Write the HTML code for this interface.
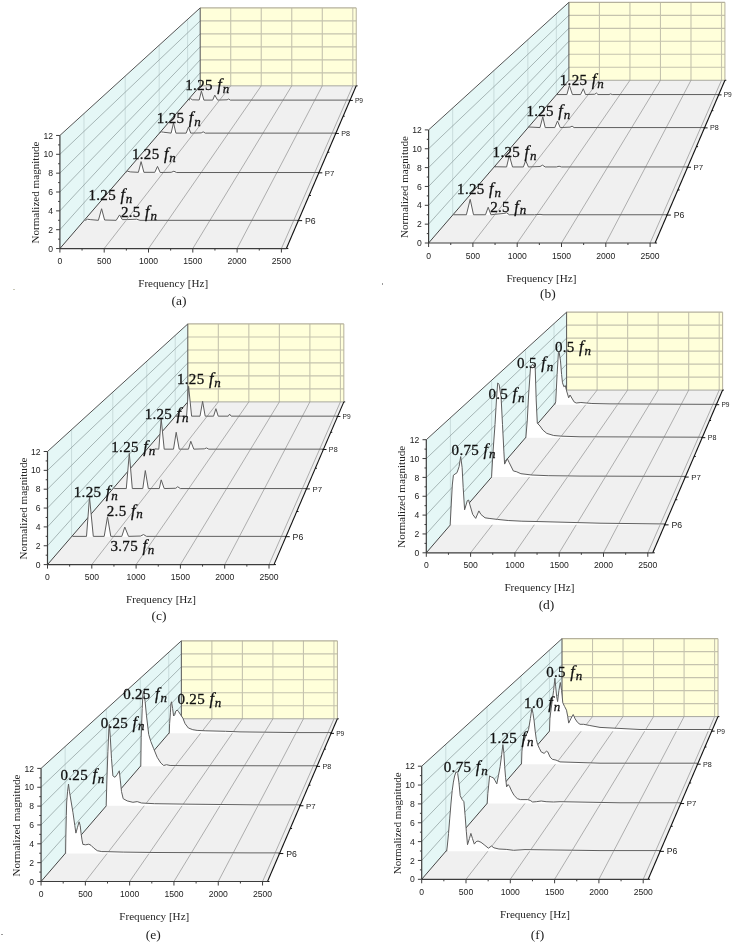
<!DOCTYPE html>
<html><head><meta charset="utf-8"><style>
html,body{margin:0;padding:0;background:#fff;}
svg{display:block;will-change:transform;}
.tk{font-family:"Liberation Sans",sans-serif;font-size:8.6px;fill:#222;}
.pl{font-family:"Liberation Sans",sans-serif;fill:#222;}
.ti{font-family:"Liberation Serif",serif;font-size:11.1px;fill:#222;}
.pn{font-family:"Liberation Serif",serif;font-size:13.5px;fill:#222;}
.an{font-family:"Liberation Serif",serif;font-size:15px;fill:#111;letter-spacing:0.3px;stroke:#111;stroke-width:0.3px;}
.fi{font-style:italic;font-size:16.3px;}
.sb{font-style:italic;font-size:13px;}
</style></head><body>
<svg width="733" height="944" viewBox="0 0 733 944">
<rect width="733" height="944" fill="#fff"/>
<rect x="382" y="283" width="1" height="2" fill="#999"/>
<rect x="13" y="289" width="2" height="1" fill="#c8c8b8"/>
<rect x="1" y="934" width="2" height="1" fill="#999"/>
<g id="pa"><polygon points="59.90,248.56 286.36,248.56 356.23,85.84 200.20,85.84" fill="#f0f0f0"/>
<polygon points="59.90,248.56 59.90,135.46 200.20,7.91 200.20,85.84" fill="#e5f7f6"/>
<polygon points="200.20,85.84 200.20,7.91 356.23,7.91 356.23,85.84" fill="#ffffda"/>
<line x1="230.72" y1="85.84" x2="230.72" y2="7.91" stroke="#c5c3ae" stroke-width="1.1"/>
<line x1="261.24" y1="85.84" x2="261.24" y2="7.91" stroke="#c5c3ae" stroke-width="1.1"/>
<line x1="291.76" y1="85.84" x2="291.76" y2="7.91" stroke="#c5c3ae" stroke-width="1.1"/>
<line x1="322.29" y1="85.84" x2="322.29" y2="7.91" stroke="#c5c3ae" stroke-width="1.1"/>
<line x1="352.81" y1="85.84" x2="352.81" y2="7.91" stroke="#c5c3ae" stroke-width="1.1"/>
<line x1="200.20" y1="72.85" x2="356.23" y2="72.85" stroke="#c5c3ae" stroke-width="1.1"/>
<line x1="200.20" y1="59.86" x2="356.23" y2="59.86" stroke="#c5c3ae" stroke-width="1.1"/>
<line x1="200.20" y1="46.88" x2="356.23" y2="46.88" stroke="#c5c3ae" stroke-width="1.1"/>
<line x1="200.20" y1="33.89" x2="356.23" y2="33.89" stroke="#c5c3ae" stroke-width="1.1"/>
<line x1="200.20" y1="20.90" x2="356.23" y2="20.90" stroke="#c5c3ae" stroke-width="1.1"/>
<line x1="200.20" y1="7.91" x2="356.23" y2="7.91" stroke="#b5b19c" stroke-width="1.2"/>
<line x1="356.23" y1="85.84" x2="356.23" y2="7.91" stroke="#b5b19c" stroke-width="1.0"/>
<line x1="200.20" y1="85.84" x2="356.23" y2="85.84" stroke="#a8a8a0" stroke-width="1.0"/>
<line x1="83.99" y1="220.62" x2="83.99" y2="113.56" stroke="#c9dcdc" stroke-width="1.0"/>
<line x1="125.21" y1="172.82" x2="125.21" y2="76.09" stroke="#c9dcdc" stroke-width="1.0"/>
<line x1="159.16" y1="133.43" x2="159.16" y2="45.22" stroke="#c9dcdc" stroke-width="1.0"/>
<line x1="187.63" y1="100.42" x2="187.63" y2="19.34" stroke="#c9dcdc" stroke-width="1.0"/>
<line x1="59.90" y1="229.71" x2="200.20" y2="72.85" stroke="#8a9999" stroke-width="0.7"/>
<line x1="59.90" y1="210.86" x2="200.20" y2="59.86" stroke="#8a9999" stroke-width="0.7"/>
<line x1="59.90" y1="192.01" x2="200.20" y2="46.88" stroke="#8a9999" stroke-width="0.7"/>
<line x1="59.90" y1="173.16" x2="200.20" y2="33.89" stroke="#8a9999" stroke-width="0.7"/>
<line x1="59.90" y1="154.31" x2="200.20" y2="20.90" stroke="#8a9999" stroke-width="0.7"/>
<line x1="104.20" y1="248.56" x2="230.72" y2="85.84" stroke="#909090" stroke-width="0.7"/>
<line x1="148.50" y1="248.56" x2="261.24" y2="85.84" stroke="#909090" stroke-width="0.7"/>
<line x1="192.80" y1="248.56" x2="291.76" y2="85.84" stroke="#909090" stroke-width="0.7"/>
<line x1="237.10" y1="248.56" x2="322.29" y2="85.84" stroke="#909090" stroke-width="0.7"/>
<line x1="281.40" y1="248.56" x2="352.81" y2="85.84" stroke="#909090" stroke-width="0.7"/>
<line x1="59.90" y1="135.46" x2="200.20" y2="7.91" stroke="#555" stroke-width="1.0"/>
<line x1="200.20" y1="85.84" x2="200.20" y2="7.91" stroke="#555" stroke-width="1.0"/>
<line x1="59.90" y1="248.56" x2="200.20" y2="85.84" stroke="#444" stroke-width="1.0"/>
<polygon points="189.40,100.42 189.40,99.32 190.60,98.62 192.30,99.82 199.20,100.02 201.40,91.12 203.90,100.12 212.70,100.12 214.80,95.12 217.60,100.12 227.10,99.82 228.70,99.02 230.30,100.12 349.97,100.12 349.97,100.42" fill="#fff" stroke="none"/>
<polyline points="189.40,100.42 189.40,99.32 190.60,98.62 192.30,99.82 199.20,100.02 201.40,91.12 203.90,100.12 212.70,100.12 214.80,95.12 217.60,100.12 227.10,99.82 228.70,99.02 230.30,100.12 349.97,100.12" fill="none" stroke="#5e5e5e" stroke-width="1" stroke-linejoin="round"/>
<polygon points="159.50,133.43 159.50,133.13 161.20,131.83 163.60,132.23 171.10,133.13 173.50,122.93 175.90,133.13 186.20,133.13 188.50,127.03 190.70,133.13 201.20,132.93 203.20,131.83 205.30,133.13 335.79,133.13 335.79,133.43" fill="#fff" stroke="none"/>
<polyline points="159.50,133.43 159.50,133.13 161.20,131.83 163.60,132.23 171.10,133.13 173.50,122.93 175.90,133.13 186.20,133.13 188.50,127.03 190.70,133.13 201.20,132.93 203.20,131.83 205.30,133.13 335.79,133.13" fill="none" stroke="#5e5e5e" stroke-width="1" stroke-linejoin="round"/>
<polygon points="125.50,172.82 125.50,172.52 127.50,171.22 130.20,171.92 138.40,172.32 141.10,161.62 143.90,172.32 154.80,172.32 157.50,166.42 160.20,172.52 171.20,172.32 173.90,171.22 176.60,172.52 318.88,172.52 318.88,172.82" fill="#fff" stroke="none"/>
<polyline points="125.50,172.82 125.50,172.52 127.50,171.22 130.20,171.92 138.40,172.32 141.10,161.62 143.90,172.32 154.80,172.32 157.50,166.42 160.20,172.52 171.20,172.32 173.90,171.22 176.60,172.52 318.88,172.52" fill="none" stroke="#5e5e5e" stroke-width="1" stroke-linejoin="round"/>
<polygon points="85.50,220.62 85.50,220.32 87.50,219.22 90.20,219.62 98.40,220.32 101.60,208.72 104.60,220.02 116.20,220.32 119.60,214.92 122.30,219.62 127.10,219.62 136.60,219.22 140.00,220.32 298.36,220.32 298.36,220.62" fill="#fff" stroke="none"/>
<polyline points="85.50,220.62 85.50,220.32 87.50,219.22 90.20,219.62 98.40,220.32 101.60,208.72 104.60,220.02 116.20,220.32 119.60,214.92 122.30,219.62 127.10,219.62 136.60,219.22 140.00,220.32 298.36,220.32" fill="none" stroke="#5e5e5e" stroke-width="1" stroke-linejoin="round"/>
<line x1="59.90" y1="248.56" x2="59.90" y2="135.46" stroke="#3c3c3c" stroke-width="1.2"/>
<line x1="56.10" y1="248.56" x2="59.90" y2="248.56" stroke="#3c3c3c" stroke-width="1.0"/>
<text x="53.00" y="251.66" text-anchor="end" class="tk">0</text>
<line x1="58.10" y1="239.14" x2="59.90" y2="239.14" stroke="#3c3c3c" stroke-width="1.0"/>
<line x1="56.10" y1="229.71" x2="59.90" y2="229.71" stroke="#3c3c3c" stroke-width="1.0"/>
<text x="53.00" y="232.81" text-anchor="end" class="tk">2</text>
<line x1="58.10" y1="220.29" x2="59.90" y2="220.29" stroke="#3c3c3c" stroke-width="1.0"/>
<line x1="56.10" y1="210.86" x2="59.90" y2="210.86" stroke="#3c3c3c" stroke-width="1.0"/>
<text x="53.00" y="213.96" text-anchor="end" class="tk">4</text>
<line x1="58.10" y1="201.44" x2="59.90" y2="201.44" stroke="#3c3c3c" stroke-width="1.0"/>
<line x1="56.10" y1="192.01" x2="59.90" y2="192.01" stroke="#3c3c3c" stroke-width="1.0"/>
<text x="53.00" y="195.11" text-anchor="end" class="tk">6</text>
<line x1="58.10" y1="182.58" x2="59.90" y2="182.58" stroke="#3c3c3c" stroke-width="1.0"/>
<line x1="56.10" y1="173.16" x2="59.90" y2="173.16" stroke="#3c3c3c" stroke-width="1.0"/>
<text x="53.00" y="176.26" text-anchor="end" class="tk">8</text>
<line x1="58.10" y1="163.74" x2="59.90" y2="163.74" stroke="#3c3c3c" stroke-width="1.0"/>
<line x1="56.10" y1="154.31" x2="59.90" y2="154.31" stroke="#3c3c3c" stroke-width="1.0"/>
<text x="53.00" y="157.41" text-anchor="end" class="tk">10</text>
<line x1="58.10" y1="144.89" x2="59.90" y2="144.89" stroke="#3c3c3c" stroke-width="1.0"/>
<line x1="56.10" y1="135.46" x2="59.90" y2="135.46" stroke="#3c3c3c" stroke-width="1.0"/>
<text x="53.00" y="138.56" text-anchor="end" class="tk">12</text>
<line x1="59.90" y1="248.56" x2="286.36" y2="248.56" stroke="#3c3c3c" stroke-width="1.2"/>
<line x1="59.90" y1="248.56" x2="59.90" y2="252.56" stroke="#3c3c3c" stroke-width="1.0"/>
<text x="59.90" y="264.06" text-anchor="middle" class="tk">0</text>
<line x1="82.05" y1="248.56" x2="82.05" y2="250.56" stroke="#3c3c3c" stroke-width="1.0"/>
<line x1="104.20" y1="248.56" x2="104.20" y2="252.56" stroke="#3c3c3c" stroke-width="1.0"/>
<text x="104.20" y="264.06" text-anchor="middle" class="tk">500</text>
<line x1="126.35" y1="248.56" x2="126.35" y2="250.56" stroke="#3c3c3c" stroke-width="1.0"/>
<line x1="148.50" y1="248.56" x2="148.50" y2="252.56" stroke="#3c3c3c" stroke-width="1.0"/>
<text x="148.50" y="264.06" text-anchor="middle" class="tk">1000</text>
<line x1="170.65" y1="248.56" x2="170.65" y2="250.56" stroke="#3c3c3c" stroke-width="1.0"/>
<line x1="192.80" y1="248.56" x2="192.80" y2="252.56" stroke="#3c3c3c" stroke-width="1.0"/>
<text x="192.80" y="264.06" text-anchor="middle" class="tk">1500</text>
<line x1="214.95" y1="248.56" x2="214.95" y2="250.56" stroke="#3c3c3c" stroke-width="1.0"/>
<line x1="237.10" y1="248.56" x2="237.10" y2="252.56" stroke="#3c3c3c" stroke-width="1.0"/>
<text x="237.10" y="264.06" text-anchor="middle" class="tk">2000</text>
<line x1="259.25" y1="248.56" x2="259.25" y2="250.56" stroke="#3c3c3c" stroke-width="1.0"/>
<line x1="281.40" y1="248.56" x2="281.40" y2="252.56" stroke="#3c3c3c" stroke-width="1.0"/>
<text x="281.40" y="264.06" text-anchor="middle" class="tk">2500</text>
<line x1="286.36" y1="248.56" x2="356.23" y2="85.84" stroke="#111" stroke-width="1.1"/>
<line x1="286.36" y1="248.56" x2="288.36" y2="248.56" stroke="#111" stroke-width="1.0"/>
<line x1="309.14" y1="195.50" x2="310.94" y2="195.50" stroke="#111" stroke-width="1.0"/>
<line x1="327.73" y1="152.22" x2="329.36" y2="152.22" stroke="#111" stroke-width="1.0"/>
<line x1="343.18" y1="116.23" x2="344.67" y2="116.23" stroke="#111" stroke-width="1.0"/>
<line x1="356.23" y1="85.84" x2="357.60" y2="85.84" stroke="#111" stroke-width="1.0"/>
<line x1="297.56" y1="220.62" x2="302.15" y2="220.62" stroke="#111" stroke-width="1.0"/>
<text x="304.99" y="223.75" style="font-size:8.71px" class="pl">P6</text>
<line x1="318.08" y1="172.82" x2="322.30" y2="172.82" stroke="#111" stroke-width="1.0"/>
<text x="324.87" y="175.65" style="font-size:7.87px" class="pl">P7</text>
<line x1="334.99" y1="133.43" x2="338.91" y2="133.43" stroke="#111" stroke-width="1.0"/>
<text x="341.25" y="136.02" style="font-size:7.18px" class="pl">P8</text>
<line x1="349.17" y1="100.42" x2="352.83" y2="100.42" stroke="#111" stroke-width="1.0"/>
<text x="354.98" y="102.79" style="font-size:6.60px" class="pl">P9</text>
<text transform="translate(38.90,192.56) rotate(-90)" text-anchor="middle" class="ti">Normalized magnitude</text>
<text x="173.20" y="287.10" text-anchor="middle" class="ti">Frequency [Hz]</text>
<text x="179.00" y="304.85" text-anchor="middle" class="pn">(a)</text>
<text x="88.50" y="200.20" class="an">1.25 <tspan class="fi" dx="0.4">f</tspan><tspan class="sb" dx="0.6" dy="2.8">n</tspan></text>
<text x="120.90" y="217.20" class="an">2.5 <tspan class="fi" dx="0.4">f</tspan><tspan class="sb" dx="0.6" dy="2.8">n</tspan></text>
<text x="132.00" y="159.40" class="an">1.25 <tspan class="fi" dx="0.4">f</tspan><tspan class="sb" dx="0.6" dy="2.8">n</tspan></text>
<text x="156.80" y="122.70" class="an">1.25 <tspan class="fi" dx="0.4">f</tspan><tspan class="sb" dx="0.6" dy="2.8">n</tspan></text>
<text x="185.30" y="90.20" class="an">1.25 <tspan class="fi" dx="0.4">f</tspan><tspan class="sb" dx="0.6" dy="2.8">n</tspan></text></g>
<g id="pb"><polygon points="428.60,243.00 655.06,243.00 724.93,80.28 568.90,80.28" fill="#f0f0f0"/>
<polygon points="428.60,243.00 428.60,129.90 568.90,2.35 568.90,80.28" fill="#e5f7f6"/>
<polygon points="568.90,80.28 568.90,2.35 724.93,2.35 724.93,80.28" fill="#ffffda"/>
<line x1="599.42" y1="80.28" x2="599.42" y2="2.35" stroke="#c5c3ae" stroke-width="1.1"/>
<line x1="629.94" y1="80.28" x2="629.94" y2="2.35" stroke="#c5c3ae" stroke-width="1.1"/>
<line x1="660.46" y1="80.28" x2="660.46" y2="2.35" stroke="#c5c3ae" stroke-width="1.1"/>
<line x1="690.99" y1="80.28" x2="690.99" y2="2.35" stroke="#c5c3ae" stroke-width="1.1"/>
<line x1="721.51" y1="80.28" x2="721.51" y2="2.35" stroke="#c5c3ae" stroke-width="1.1"/>
<line x1="568.90" y1="67.29" x2="724.93" y2="67.29" stroke="#c5c3ae" stroke-width="1.1"/>
<line x1="568.90" y1="54.30" x2="724.93" y2="54.30" stroke="#c5c3ae" stroke-width="1.1"/>
<line x1="568.90" y1="41.32" x2="724.93" y2="41.32" stroke="#c5c3ae" stroke-width="1.1"/>
<line x1="568.90" y1="28.33" x2="724.93" y2="28.33" stroke="#c5c3ae" stroke-width="1.1"/>
<line x1="568.90" y1="15.34" x2="724.93" y2="15.34" stroke="#c5c3ae" stroke-width="1.1"/>
<line x1="568.90" y1="2.35" x2="724.93" y2="2.35" stroke="#b5b19c" stroke-width="1.2"/>
<line x1="724.93" y1="80.28" x2="724.93" y2="2.35" stroke="#b5b19c" stroke-width="1.0"/>
<line x1="568.90" y1="80.28" x2="724.93" y2="80.28" stroke="#a8a8a0" stroke-width="1.0"/>
<line x1="452.69" y1="215.06" x2="452.69" y2="108.00" stroke="#c9dcdc" stroke-width="1.0"/>
<line x1="493.91" y1="167.26" x2="493.91" y2="70.53" stroke="#c9dcdc" stroke-width="1.0"/>
<line x1="527.86" y1="127.87" x2="527.86" y2="39.66" stroke="#c9dcdc" stroke-width="1.0"/>
<line x1="556.33" y1="94.86" x2="556.33" y2="13.78" stroke="#c9dcdc" stroke-width="1.0"/>
<line x1="428.60" y1="224.15" x2="568.90" y2="67.29" stroke="#8a9999" stroke-width="0.7"/>
<line x1="428.60" y1="205.30" x2="568.90" y2="54.30" stroke="#8a9999" stroke-width="0.7"/>
<line x1="428.60" y1="186.45" x2="568.90" y2="41.32" stroke="#8a9999" stroke-width="0.7"/>
<line x1="428.60" y1="167.60" x2="568.90" y2="28.33" stroke="#8a9999" stroke-width="0.7"/>
<line x1="428.60" y1="148.75" x2="568.90" y2="15.34" stroke="#8a9999" stroke-width="0.7"/>
<line x1="472.90" y1="243.00" x2="599.42" y2="80.28" stroke="#909090" stroke-width="0.7"/>
<line x1="517.20" y1="243.00" x2="629.94" y2="80.28" stroke="#909090" stroke-width="0.7"/>
<line x1="561.50" y1="243.00" x2="660.46" y2="80.28" stroke="#909090" stroke-width="0.7"/>
<line x1="605.80" y1="243.00" x2="690.99" y2="80.28" stroke="#909090" stroke-width="0.7"/>
<line x1="650.10" y1="243.00" x2="721.51" y2="80.28" stroke="#909090" stroke-width="0.7"/>
<line x1="428.60" y1="129.90" x2="568.90" y2="2.35" stroke="#555" stroke-width="1.0"/>
<line x1="568.90" y1="80.28" x2="568.90" y2="2.35" stroke="#555" stroke-width="1.0"/>
<line x1="428.60" y1="243.00" x2="568.90" y2="80.28" stroke="#444" stroke-width="1.0"/>
<polygon points="556.60,94.86 556.60,94.56 566.90,94.56 569.40,85.46 572.40,94.56 580.60,94.56 583.30,88.76 585.50,94.56 594.80,94.26 596.40,93.06 598.00,94.56 609.00,94.56 610.60,93.96 612.20,94.56 718.67,94.56 718.67,94.86" fill="#fff" stroke="none"/>
<polyline points="556.60,94.86 556.60,94.56 566.90,94.56 569.40,85.46 572.40,94.56 580.60,94.56 583.30,88.76 585.50,94.56 594.80,94.26 596.40,93.06 598.00,94.56 609.00,94.56 610.60,93.96 612.20,94.56 718.67,94.56" fill="none" stroke="#5e5e5e" stroke-width="1" stroke-linejoin="round"/>
<polygon points="528.40,127.87 528.40,126.97 540.00,127.57 542.80,116.87 545.20,127.57 554.80,127.57 557.50,120.97 560.20,127.57 570.00,127.17 572.10,126.17 574.10,127.57 704.49,127.57 704.49,127.87" fill="#fff" stroke="none"/>
<polyline points="528.40,127.87 528.40,126.97 540.00,127.57 542.80,116.87 545.20,127.57 554.80,127.57 557.50,120.97 560.20,127.57 570.00,127.17 572.10,126.17 574.10,127.57 704.49,127.57" fill="none" stroke="#5e5e5e" stroke-width="1" stroke-linejoin="round"/>
<polygon points="495.00,167.26 495.00,166.76 506.60,166.96 509.30,155.36 512.50,166.96 523.40,166.96 525.70,160.56 528.40,166.96 540.00,166.56 542.50,165.16 545.20,166.96 556.40,166.96 559.10,166.26 561.50,166.96 687.58,166.96 687.58,167.26" fill="#fff" stroke="none"/>
<polyline points="495.00,167.26 495.00,166.76 506.60,166.96 509.30,155.36 512.50,166.96 523.40,166.96 525.70,160.56 528.40,166.96 540.00,166.56 542.50,165.16 545.20,166.96 556.40,166.96 559.10,166.26 561.50,166.96 687.58,166.96" fill="none" stroke="#5e5e5e" stroke-width="1" stroke-linejoin="round"/>
<polygon points="453.40,215.06 453.40,214.76 466.40,214.76 470.20,199.36 473.50,214.76 485.50,214.76 488.20,207.26 490.90,214.76 503.90,213.46 506.60,212.76 509.30,214.76 534.60,214.76 540.00,214.36 543.00,214.76 667.06,214.76 667.06,215.06" fill="#fff" stroke="none"/>
<polyline points="453.40,215.06 453.40,214.76 466.40,214.76 470.20,199.36 473.50,214.76 485.50,214.76 488.20,207.26 490.90,214.76 503.90,213.46 506.60,212.76 509.30,214.76 534.60,214.76 540.00,214.36 543.00,214.76 667.06,214.76" fill="none" stroke="#5e5e5e" stroke-width="1" stroke-linejoin="round"/>
<line x1="428.60" y1="243.00" x2="428.60" y2="129.90" stroke="#3c3c3c" stroke-width="1.2"/>
<line x1="424.80" y1="243.00" x2="428.60" y2="243.00" stroke="#3c3c3c" stroke-width="1.0"/>
<text x="421.70" y="246.10" text-anchor="end" class="tk">0</text>
<line x1="426.80" y1="233.58" x2="428.60" y2="233.58" stroke="#3c3c3c" stroke-width="1.0"/>
<line x1="424.80" y1="224.15" x2="428.60" y2="224.15" stroke="#3c3c3c" stroke-width="1.0"/>
<text x="421.70" y="227.25" text-anchor="end" class="tk">2</text>
<line x1="426.80" y1="214.73" x2="428.60" y2="214.73" stroke="#3c3c3c" stroke-width="1.0"/>
<line x1="424.80" y1="205.30" x2="428.60" y2="205.30" stroke="#3c3c3c" stroke-width="1.0"/>
<text x="421.70" y="208.40" text-anchor="end" class="tk">4</text>
<line x1="426.80" y1="195.88" x2="428.60" y2="195.88" stroke="#3c3c3c" stroke-width="1.0"/>
<line x1="424.80" y1="186.45" x2="428.60" y2="186.45" stroke="#3c3c3c" stroke-width="1.0"/>
<text x="421.70" y="189.55" text-anchor="end" class="tk">6</text>
<line x1="426.80" y1="177.02" x2="428.60" y2="177.02" stroke="#3c3c3c" stroke-width="1.0"/>
<line x1="424.80" y1="167.60" x2="428.60" y2="167.60" stroke="#3c3c3c" stroke-width="1.0"/>
<text x="421.70" y="170.70" text-anchor="end" class="tk">8</text>
<line x1="426.80" y1="158.18" x2="428.60" y2="158.18" stroke="#3c3c3c" stroke-width="1.0"/>
<line x1="424.80" y1="148.75" x2="428.60" y2="148.75" stroke="#3c3c3c" stroke-width="1.0"/>
<text x="421.70" y="151.85" text-anchor="end" class="tk">10</text>
<line x1="426.80" y1="139.33" x2="428.60" y2="139.33" stroke="#3c3c3c" stroke-width="1.0"/>
<line x1="424.80" y1="129.90" x2="428.60" y2="129.90" stroke="#3c3c3c" stroke-width="1.0"/>
<text x="421.70" y="133.00" text-anchor="end" class="tk">12</text>
<line x1="428.60" y1="243.00" x2="655.06" y2="243.00" stroke="#3c3c3c" stroke-width="1.2"/>
<line x1="428.60" y1="243.00" x2="428.60" y2="247.00" stroke="#3c3c3c" stroke-width="1.0"/>
<text x="428.60" y="258.50" text-anchor="middle" class="tk">0</text>
<line x1="450.75" y1="243.00" x2="450.75" y2="245.00" stroke="#3c3c3c" stroke-width="1.0"/>
<line x1="472.90" y1="243.00" x2="472.90" y2="247.00" stroke="#3c3c3c" stroke-width="1.0"/>
<text x="472.90" y="258.50" text-anchor="middle" class="tk">500</text>
<line x1="495.05" y1="243.00" x2="495.05" y2="245.00" stroke="#3c3c3c" stroke-width="1.0"/>
<line x1="517.20" y1="243.00" x2="517.20" y2="247.00" stroke="#3c3c3c" stroke-width="1.0"/>
<text x="517.20" y="258.50" text-anchor="middle" class="tk">1000</text>
<line x1="539.35" y1="243.00" x2="539.35" y2="245.00" stroke="#3c3c3c" stroke-width="1.0"/>
<line x1="561.50" y1="243.00" x2="561.50" y2="247.00" stroke="#3c3c3c" stroke-width="1.0"/>
<text x="561.50" y="258.50" text-anchor="middle" class="tk">1500</text>
<line x1="583.65" y1="243.00" x2="583.65" y2="245.00" stroke="#3c3c3c" stroke-width="1.0"/>
<line x1="605.80" y1="243.00" x2="605.80" y2="247.00" stroke="#3c3c3c" stroke-width="1.0"/>
<text x="605.80" y="258.50" text-anchor="middle" class="tk">2000</text>
<line x1="627.95" y1="243.00" x2="627.95" y2="245.00" stroke="#3c3c3c" stroke-width="1.0"/>
<line x1="650.10" y1="243.00" x2="650.10" y2="247.00" stroke="#3c3c3c" stroke-width="1.0"/>
<text x="650.10" y="258.50" text-anchor="middle" class="tk">2500</text>
<line x1="655.06" y1="243.00" x2="724.93" y2="80.28" stroke="#111" stroke-width="1.1"/>
<line x1="655.06" y1="243.00" x2="657.06" y2="243.00" stroke="#111" stroke-width="1.0"/>
<line x1="677.84" y1="189.94" x2="679.64" y2="189.94" stroke="#111" stroke-width="1.0"/>
<line x1="696.43" y1="146.66" x2="698.06" y2="146.66" stroke="#111" stroke-width="1.0"/>
<line x1="711.88" y1="110.67" x2="713.37" y2="110.67" stroke="#111" stroke-width="1.0"/>
<line x1="724.93" y1="80.28" x2="726.30" y2="80.28" stroke="#111" stroke-width="1.0"/>
<line x1="666.26" y1="215.06" x2="670.85" y2="215.06" stroke="#111" stroke-width="1.0"/>
<text x="673.69" y="218.19" style="font-size:8.71px" class="pl">P6</text>
<line x1="686.78" y1="167.26" x2="691.00" y2="167.26" stroke="#111" stroke-width="1.0"/>
<text x="693.57" y="170.09" style="font-size:7.87px" class="pl">P7</text>
<line x1="703.69" y1="127.87" x2="707.61" y2="127.87" stroke="#111" stroke-width="1.0"/>
<text x="709.95" y="130.46" style="font-size:7.18px" class="pl">P8</text>
<line x1="717.87" y1="94.86" x2="721.53" y2="94.86" stroke="#111" stroke-width="1.0"/>
<text x="723.68" y="97.23" style="font-size:6.60px" class="pl">P9</text>
<text transform="translate(407.60,187.00) rotate(-90)" text-anchor="middle" class="ti">Normalized magnitude</text>
<text x="541.40" y="281.70" text-anchor="middle" class="ti">Frequency [Hz]</text>
<text x="547.85" y="297.50" text-anchor="middle" class="pn">(b)</text>
<text x="457.10" y="194.10" class="an">1.25 <tspan class="fi" dx="0.4">f</tspan><tspan class="sb" dx="0.6" dy="2.8">n</tspan></text>
<text x="490.20" y="211.50" class="an">2.5 <tspan class="fi" dx="0.4">f</tspan><tspan class="sb" dx="0.6" dy="2.8">n</tspan></text>
<text x="492.60" y="156.70" class="an">1.25 <tspan class="fi" dx="0.4">f</tspan><tspan class="sb" dx="0.6" dy="2.8">n</tspan></text>
<text x="526.40" y="116.30" class="an">1.25 <tspan class="fi" dx="0.4">f</tspan><tspan class="sb" dx="0.6" dy="2.8">n</tspan></text>
<text x="559.80" y="85.30" class="an">1.25 <tspan class="fi" dx="0.4">f</tspan><tspan class="sb" dx="0.6" dy="2.8">n</tspan></text></g>
<g id="pc"><polygon points="47.50,564.60 273.96,564.60 343.83,401.88 187.80,401.88" fill="#f0f0f0"/>
<polygon points="47.50,564.60 47.50,451.50 187.80,323.95 187.80,401.88" fill="#e5f7f6"/>
<polygon points="187.80,401.88 187.80,323.95 343.83,323.95 343.83,401.88" fill="#ffffda"/>
<line x1="218.32" y1="401.88" x2="218.32" y2="323.95" stroke="#c5c3ae" stroke-width="1.1"/>
<line x1="248.84" y1="401.88" x2="248.84" y2="323.95" stroke="#c5c3ae" stroke-width="1.1"/>
<line x1="279.36" y1="401.88" x2="279.36" y2="323.95" stroke="#c5c3ae" stroke-width="1.1"/>
<line x1="309.89" y1="401.88" x2="309.89" y2="323.95" stroke="#c5c3ae" stroke-width="1.1"/>
<line x1="340.41" y1="401.88" x2="340.41" y2="323.95" stroke="#c5c3ae" stroke-width="1.1"/>
<line x1="187.80" y1="388.89" x2="343.83" y2="388.89" stroke="#c5c3ae" stroke-width="1.1"/>
<line x1="187.80" y1="375.90" x2="343.83" y2="375.90" stroke="#c5c3ae" stroke-width="1.1"/>
<line x1="187.80" y1="362.92" x2="343.83" y2="362.92" stroke="#c5c3ae" stroke-width="1.1"/>
<line x1="187.80" y1="349.93" x2="343.83" y2="349.93" stroke="#c5c3ae" stroke-width="1.1"/>
<line x1="187.80" y1="336.94" x2="343.83" y2="336.94" stroke="#c5c3ae" stroke-width="1.1"/>
<line x1="187.80" y1="323.95" x2="343.83" y2="323.95" stroke="#b5b19c" stroke-width="1.2"/>
<line x1="343.83" y1="401.88" x2="343.83" y2="323.95" stroke="#b5b19c" stroke-width="1.0"/>
<line x1="187.80" y1="401.88" x2="343.83" y2="401.88" stroke="#a8a8a0" stroke-width="1.0"/>
<line x1="71.59" y1="536.66" x2="71.59" y2="429.60" stroke="#c9dcdc" stroke-width="1.0"/>
<line x1="112.81" y1="488.86" x2="112.81" y2="392.13" stroke="#c9dcdc" stroke-width="1.0"/>
<line x1="146.76" y1="449.47" x2="146.76" y2="361.26" stroke="#c9dcdc" stroke-width="1.0"/>
<line x1="175.23" y1="416.46" x2="175.23" y2="335.38" stroke="#c9dcdc" stroke-width="1.0"/>
<line x1="47.50" y1="545.75" x2="187.80" y2="388.89" stroke="#8a9999" stroke-width="0.7"/>
<line x1="47.50" y1="526.90" x2="187.80" y2="375.90" stroke="#8a9999" stroke-width="0.7"/>
<line x1="47.50" y1="508.05" x2="187.80" y2="362.92" stroke="#8a9999" stroke-width="0.7"/>
<line x1="47.50" y1="489.20" x2="187.80" y2="349.93" stroke="#8a9999" stroke-width="0.7"/>
<line x1="47.50" y1="470.35" x2="187.80" y2="336.94" stroke="#8a9999" stroke-width="0.7"/>
<line x1="91.80" y1="564.60" x2="218.32" y2="401.88" stroke="#909090" stroke-width="0.7"/>
<line x1="136.10" y1="564.60" x2="248.84" y2="401.88" stroke="#909090" stroke-width="0.7"/>
<line x1="180.40" y1="564.60" x2="279.36" y2="401.88" stroke="#909090" stroke-width="0.7"/>
<line x1="224.70" y1="564.60" x2="309.89" y2="401.88" stroke="#909090" stroke-width="0.7"/>
<line x1="269.00" y1="564.60" x2="340.41" y2="401.88" stroke="#909090" stroke-width="0.7"/>
<line x1="47.50" y1="451.50" x2="187.80" y2="323.95" stroke="#555" stroke-width="1.0"/>
<line x1="187.80" y1="401.88" x2="187.80" y2="323.95" stroke="#555" stroke-width="1.0"/>
<line x1="47.50" y1="564.60" x2="187.80" y2="401.88" stroke="#444" stroke-width="1.0"/>
<polygon points="175.80,416.46 175.80,416.16 186.60,416.16 188.60,386.36 191.60,416.16 200.00,416.16 202.60,401.36 205.20,416.16 213.60,416.16 215.90,408.66 218.20,416.16 228.30,416.16 229.60,414.16 231.20,416.16 337.57,416.16 337.57,416.46" fill="#fff" stroke="none"/>
<polyline points="175.80,416.46 175.80,416.16 186.60,416.16 188.60,386.36 191.60,416.16 200.00,416.16 202.60,401.36 205.20,416.16 213.60,416.16 215.90,408.66 218.20,416.16 228.30,416.16 229.60,414.16 231.20,416.16 337.57,416.16" fill="none" stroke="#5e5e5e" stroke-width="1" stroke-linejoin="round"/>
<polygon points="154.80,449.47 154.80,448.87 158.80,449.17 161.20,418.77 164.20,449.17 173.50,449.17 176.20,432.27 179.20,449.17 188.50,449.17 190.80,441.27 193.80,449.17 204.30,448.87 206.50,447.97 208.80,449.17 323.39,449.17 323.39,449.47" fill="#fff" stroke="none"/>
<polyline points="154.80,449.47 154.80,448.87 158.80,449.17 161.20,418.77 164.20,449.17 173.50,449.17 176.20,432.27 179.20,449.17 188.50,449.17 190.80,441.27 193.80,449.17 204.30,448.87 206.50,447.97 208.80,449.17 323.39,449.17" fill="none" stroke="#5e5e5e" stroke-width="1" stroke-linejoin="round"/>
<polygon points="114.30,488.86 114.30,488.56 126.30,488.56 129.30,453.36 132.30,488.56 142.80,488.56 145.30,470.56 148.30,488.56 159.30,488.56 161.20,479.86 164.20,488.56 175.80,488.26 177.70,486.76 180.30,488.56 306.48,488.56 306.48,488.86" fill="#fff" stroke="none"/>
<polyline points="114.30,488.86 114.30,488.56 126.30,488.56 129.30,453.36 132.30,488.56 142.80,488.56 145.30,470.56 148.30,488.56 159.30,488.56 161.20,479.86 164.20,488.56 175.80,488.26 177.70,486.76 180.30,488.56 306.48,488.56" fill="none" stroke="#5e5e5e" stroke-width="1" stroke-linejoin="round"/>
<polygon points="72.70,536.66 72.70,536.36 86.50,536.36 89.50,497.36 93.30,536.36 104.20,536.36 107.50,516.86 110.80,536.36 121.80,536.36 124.80,527.06 128.50,536.36 140.50,536.06 143.50,534.56 146.50,536.36 285.96,536.36 285.96,536.66" fill="#fff" stroke="none"/>
<polyline points="72.70,536.66 72.70,536.36 86.50,536.36 89.50,497.36 93.30,536.36 104.20,536.36 107.50,516.86 110.80,536.36 121.80,536.36 124.80,527.06 128.50,536.36 140.50,536.06 143.50,534.56 146.50,536.36 285.96,536.36" fill="none" stroke="#5e5e5e" stroke-width="1" stroke-linejoin="round"/>
<line x1="47.50" y1="564.60" x2="47.50" y2="451.50" stroke="#3c3c3c" stroke-width="1.2"/>
<line x1="43.70" y1="564.60" x2="47.50" y2="564.60" stroke="#3c3c3c" stroke-width="1.0"/>
<text x="40.60" y="567.70" text-anchor="end" class="tk">0</text>
<line x1="45.70" y1="555.18" x2="47.50" y2="555.18" stroke="#3c3c3c" stroke-width="1.0"/>
<line x1="43.70" y1="545.75" x2="47.50" y2="545.75" stroke="#3c3c3c" stroke-width="1.0"/>
<text x="40.60" y="548.85" text-anchor="end" class="tk">2</text>
<line x1="45.70" y1="536.33" x2="47.50" y2="536.33" stroke="#3c3c3c" stroke-width="1.0"/>
<line x1="43.70" y1="526.90" x2="47.50" y2="526.90" stroke="#3c3c3c" stroke-width="1.0"/>
<text x="40.60" y="530.00" text-anchor="end" class="tk">4</text>
<line x1="45.70" y1="517.48" x2="47.50" y2="517.48" stroke="#3c3c3c" stroke-width="1.0"/>
<line x1="43.70" y1="508.05" x2="47.50" y2="508.05" stroke="#3c3c3c" stroke-width="1.0"/>
<text x="40.60" y="511.15" text-anchor="end" class="tk">6</text>
<line x1="45.70" y1="498.62" x2="47.50" y2="498.62" stroke="#3c3c3c" stroke-width="1.0"/>
<line x1="43.70" y1="489.20" x2="47.50" y2="489.20" stroke="#3c3c3c" stroke-width="1.0"/>
<text x="40.60" y="492.30" text-anchor="end" class="tk">8</text>
<line x1="45.70" y1="479.78" x2="47.50" y2="479.78" stroke="#3c3c3c" stroke-width="1.0"/>
<line x1="43.70" y1="470.35" x2="47.50" y2="470.35" stroke="#3c3c3c" stroke-width="1.0"/>
<text x="40.60" y="473.45" text-anchor="end" class="tk">10</text>
<line x1="45.70" y1="460.93" x2="47.50" y2="460.93" stroke="#3c3c3c" stroke-width="1.0"/>
<line x1="43.70" y1="451.50" x2="47.50" y2="451.50" stroke="#3c3c3c" stroke-width="1.0"/>
<text x="40.60" y="454.60" text-anchor="end" class="tk">12</text>
<line x1="47.50" y1="564.60" x2="273.96" y2="564.60" stroke="#3c3c3c" stroke-width="1.2"/>
<line x1="47.50" y1="564.60" x2="47.50" y2="568.60" stroke="#3c3c3c" stroke-width="1.0"/>
<text x="47.50" y="580.10" text-anchor="middle" class="tk">0</text>
<line x1="69.65" y1="564.60" x2="69.65" y2="566.60" stroke="#3c3c3c" stroke-width="1.0"/>
<line x1="91.80" y1="564.60" x2="91.80" y2="568.60" stroke="#3c3c3c" stroke-width="1.0"/>
<text x="91.80" y="580.10" text-anchor="middle" class="tk">500</text>
<line x1="113.95" y1="564.60" x2="113.95" y2="566.60" stroke="#3c3c3c" stroke-width="1.0"/>
<line x1="136.10" y1="564.60" x2="136.10" y2="568.60" stroke="#3c3c3c" stroke-width="1.0"/>
<text x="136.10" y="580.10" text-anchor="middle" class="tk">1000</text>
<line x1="158.25" y1="564.60" x2="158.25" y2="566.60" stroke="#3c3c3c" stroke-width="1.0"/>
<line x1="180.40" y1="564.60" x2="180.40" y2="568.60" stroke="#3c3c3c" stroke-width="1.0"/>
<text x="180.40" y="580.10" text-anchor="middle" class="tk">1500</text>
<line x1="202.55" y1="564.60" x2="202.55" y2="566.60" stroke="#3c3c3c" stroke-width="1.0"/>
<line x1="224.70" y1="564.60" x2="224.70" y2="568.60" stroke="#3c3c3c" stroke-width="1.0"/>
<text x="224.70" y="580.10" text-anchor="middle" class="tk">2000</text>
<line x1="246.85" y1="564.60" x2="246.85" y2="566.60" stroke="#3c3c3c" stroke-width="1.0"/>
<line x1="269.00" y1="564.60" x2="269.00" y2="568.60" stroke="#3c3c3c" stroke-width="1.0"/>
<text x="269.00" y="580.10" text-anchor="middle" class="tk">2500</text>
<line x1="273.96" y1="564.60" x2="343.83" y2="401.88" stroke="#111" stroke-width="1.1"/>
<line x1="273.96" y1="564.60" x2="275.96" y2="564.60" stroke="#111" stroke-width="1.0"/>
<line x1="296.74" y1="511.54" x2="298.54" y2="511.54" stroke="#111" stroke-width="1.0"/>
<line x1="315.33" y1="468.26" x2="316.96" y2="468.26" stroke="#111" stroke-width="1.0"/>
<line x1="330.78" y1="432.27" x2="332.27" y2="432.27" stroke="#111" stroke-width="1.0"/>
<line x1="343.83" y1="401.88" x2="345.20" y2="401.88" stroke="#111" stroke-width="1.0"/>
<line x1="285.16" y1="536.66" x2="289.75" y2="536.66" stroke="#111" stroke-width="1.0"/>
<text x="292.59" y="539.79" style="font-size:8.71px" class="pl">P6</text>
<line x1="305.68" y1="488.86" x2="309.90" y2="488.86" stroke="#111" stroke-width="1.0"/>
<text x="312.47" y="491.69" style="font-size:7.87px" class="pl">P7</text>
<line x1="322.59" y1="449.47" x2="326.51" y2="449.47" stroke="#111" stroke-width="1.0"/>
<text x="328.85" y="452.06" style="font-size:7.18px" class="pl">P8</text>
<line x1="336.77" y1="416.46" x2="340.43" y2="416.46" stroke="#111" stroke-width="1.0"/>
<text x="342.58" y="418.83" style="font-size:6.60px" class="pl">P9</text>
<text transform="translate(26.50,508.60) rotate(-90)" text-anchor="middle" class="ti">Normalized magnitude</text>
<text x="161.00" y="603.30" text-anchor="middle" class="ti">Frequency [Hz]</text>
<text x="159.05" y="620.25" text-anchor="middle" class="pn">(c)</text>
<text x="73.80" y="497.30" class="an">1.25 <tspan class="fi" dx="0.4">f</tspan><tspan class="sb" dx="0.6" dy="2.8">n</tspan></text>
<text x="106.80" y="515.60" class="an">2.5 <tspan class="fi" dx="0.4">f</tspan><tspan class="sb" dx="0.6" dy="2.8">n</tspan></text>
<text x="110.50" y="550.90" class="an">3.75 <tspan class="fi" dx="0.4">f</tspan><tspan class="sb" dx="0.6" dy="2.8">n</tspan></text>
<text x="111.30" y="451.90" class="an">1.25 <tspan class="fi" dx="0.4">f</tspan><tspan class="sb" dx="0.6" dy="2.8">n</tspan></text>
<text x="144.70" y="419.40" class="an">1.25 <tspan class="fi" dx="0.4">f</tspan><tspan class="sb" dx="0.6" dy="2.8">n</tspan></text>
<text x="177.00" y="384.00" class="an">1.25 <tspan class="fi" dx="0.4">f</tspan><tspan class="sb" dx="0.6" dy="2.8">n</tspan></text></g>
<g id="pd"><polygon points="426.30,552.80 652.76,552.80 722.63,390.08 566.60,390.08" fill="#f0f0f0"/>
<polygon points="426.30,552.80 426.30,439.70 566.60,312.15 566.60,390.08" fill="#e5f7f6"/>
<polygon points="566.60,390.08 566.60,312.15 722.63,312.15 722.63,390.08" fill="#ffffda"/>
<line x1="597.12" y1="390.08" x2="597.12" y2="312.15" stroke="#c5c3ae" stroke-width="1.1"/>
<line x1="627.64" y1="390.08" x2="627.64" y2="312.15" stroke="#c5c3ae" stroke-width="1.1"/>
<line x1="658.16" y1="390.08" x2="658.16" y2="312.15" stroke="#c5c3ae" stroke-width="1.1"/>
<line x1="688.69" y1="390.08" x2="688.69" y2="312.15" stroke="#c5c3ae" stroke-width="1.1"/>
<line x1="719.21" y1="390.08" x2="719.21" y2="312.15" stroke="#c5c3ae" stroke-width="1.1"/>
<line x1="566.60" y1="377.09" x2="722.63" y2="377.09" stroke="#c5c3ae" stroke-width="1.1"/>
<line x1="566.60" y1="364.10" x2="722.63" y2="364.10" stroke="#c5c3ae" stroke-width="1.1"/>
<line x1="566.60" y1="351.12" x2="722.63" y2="351.12" stroke="#c5c3ae" stroke-width="1.1"/>
<line x1="566.60" y1="338.13" x2="722.63" y2="338.13" stroke="#c5c3ae" stroke-width="1.1"/>
<line x1="566.60" y1="325.14" x2="722.63" y2="325.14" stroke="#c5c3ae" stroke-width="1.1"/>
<line x1="566.60" y1="312.15" x2="722.63" y2="312.15" stroke="#b5b19c" stroke-width="1.2"/>
<line x1="722.63" y1="390.08" x2="722.63" y2="312.15" stroke="#b5b19c" stroke-width="1.0"/>
<line x1="566.60" y1="390.08" x2="722.63" y2="390.08" stroke="#a8a8a0" stroke-width="1.0"/>
<line x1="450.39" y1="524.86" x2="450.39" y2="417.80" stroke="#c9dcdc" stroke-width="1.0"/>
<line x1="491.61" y1="477.06" x2="491.61" y2="380.33" stroke="#c9dcdc" stroke-width="1.0"/>
<line x1="525.56" y1="437.67" x2="525.56" y2="349.46" stroke="#c9dcdc" stroke-width="1.0"/>
<line x1="554.03" y1="404.66" x2="554.03" y2="323.58" stroke="#c9dcdc" stroke-width="1.0"/>
<line x1="426.30" y1="533.95" x2="566.60" y2="377.09" stroke="#8a9999" stroke-width="0.7"/>
<line x1="426.30" y1="515.10" x2="566.60" y2="364.10" stroke="#8a9999" stroke-width="0.7"/>
<line x1="426.30" y1="496.25" x2="566.60" y2="351.12" stroke="#8a9999" stroke-width="0.7"/>
<line x1="426.30" y1="477.40" x2="566.60" y2="338.13" stroke="#8a9999" stroke-width="0.7"/>
<line x1="426.30" y1="458.55" x2="566.60" y2="325.14" stroke="#8a9999" stroke-width="0.7"/>
<line x1="470.60" y1="552.80" x2="597.12" y2="390.08" stroke="#909090" stroke-width="0.7"/>
<line x1="514.90" y1="552.80" x2="627.64" y2="390.08" stroke="#909090" stroke-width="0.7"/>
<line x1="559.20" y1="552.80" x2="658.16" y2="390.08" stroke="#909090" stroke-width="0.7"/>
<line x1="603.50" y1="552.80" x2="688.69" y2="390.08" stroke="#909090" stroke-width="0.7"/>
<line x1="647.80" y1="552.80" x2="719.21" y2="390.08" stroke="#909090" stroke-width="0.7"/>
<line x1="426.30" y1="439.70" x2="566.60" y2="312.15" stroke="#555" stroke-width="1.0"/>
<line x1="566.60" y1="390.08" x2="566.60" y2="312.15" stroke="#555" stroke-width="1.0"/>
<line x1="426.30" y1="552.80" x2="566.60" y2="390.08" stroke="#444" stroke-width="1.0"/>
<polygon points="554.80,404.66 554.80,404.20 555.70,401.90 557.10,374.60 558.40,352.70 559.10,352.10 560.50,360.90 561.60,374.60 562.50,382.80 563.90,386.80 565.30,385.50 566.60,390.90 568.70,397.80 570.00,395.00 574.10,401.90 576.20,403.00 580.90,402.50 591.90,403.50 610.00,403.90 700.00,404.30 716.37,404.30 716.37,404.66" fill="#fff" stroke="none"/>
<polyline points="554.80,404.66 554.80,404.20 555.70,401.90 557.10,374.60 558.40,352.70 559.10,352.10 560.50,360.90 561.60,374.60 562.50,382.80 563.90,386.80 565.30,385.50 566.60,390.90 568.70,397.80 570.00,395.00 574.10,401.90 576.20,403.00 580.90,402.50 591.90,403.50 610.00,403.90 700.00,404.30 716.37,404.30" fill="none" stroke="#5e5e5e" stroke-width="1" stroke-linejoin="round"/>
<polygon points="525.90,437.67 525.90,437.20 527.30,420.00 528.60,395.00 530.50,367.50 532.60,364.20 535.20,367.70 536.20,400.00 537.30,423.20 540.00,426.00 542.80,430.00 546.80,433.40 553.70,435.50 561.90,436.20 580.00,436.80 700.00,437.20 702.19,437.20 702.19,437.67" fill="#fff" stroke="none"/>
<polyline points="525.90,437.67 525.90,437.20 527.30,420.00 528.60,395.00 530.50,367.50 532.60,364.20 535.20,367.70 536.20,400.00 537.30,423.20 540.00,426.00 542.80,430.00 546.80,433.40 553.70,435.50 561.90,436.20 580.00,436.80 700.00,437.20 702.19,437.20" fill="none" stroke="#5e5e5e" stroke-width="1" stroke-linejoin="round"/>
<polygon points="491.60,477.06 491.60,476.40 493.00,451.90 495.00,424.60 496.60,397.30 497.70,383.00 499.10,384.30 501.10,397.30 502.50,424.60 503.90,451.90 504.60,464.10 507.30,458.70 509.30,462.80 513.40,471.00 516.20,471.60 520.90,473.70 531.80,475.00 548.20,475.70 580.00,476.10 686.00,476.40 686.00,477.06" fill="#fff" stroke="none"/>
<polyline points="491.60,477.06 491.60,476.40 493.00,451.90 495.00,424.60 496.60,397.30 497.70,383.00 499.10,384.30 501.10,397.30 502.50,424.60 503.90,451.90 504.60,464.10 507.30,458.70 509.30,462.80 513.40,471.00 516.20,471.60 520.90,473.70 531.80,475.00 548.20,475.70 580.00,476.10 686.00,476.40" fill="none" stroke="#5e5e5e" stroke-width="1" stroke-linejoin="round"/>
<polygon points="450.20,524.86 450.20,524.60 450.90,511.00 452.30,485.00 453.40,475.20 457.00,472.70 459.10,466.60 460.70,456.60 462.10,467.30 463.20,487.70 464.60,509.80 467.30,500.70 468.60,500.00 469.70,504.10 472.70,514.40 475.70,518.40 478.90,510.90 480.90,514.40 485.00,517.80 489.10,518.40 497.30,519.40 508.20,520.50 521.90,521.20 540.00,521.60 600.00,523.20 666.00,524.00 666.00,524.86" fill="#fff" stroke="none"/>
<polyline points="450.20,524.86 450.20,524.60 450.90,511.00 452.30,485.00 453.40,475.20 457.00,472.70 459.10,466.60 460.70,456.60 462.10,467.30 463.20,487.70 464.60,509.80 467.30,500.70 468.60,500.00 469.70,504.10 472.70,514.40 475.70,518.40 478.90,510.90 480.90,514.40 485.00,517.80 489.10,518.40 497.30,519.40 508.20,520.50 521.90,521.20 540.00,521.60 600.00,523.20 666.00,524.00" fill="none" stroke="#5e5e5e" stroke-width="1" stroke-linejoin="round"/>
<line x1="426.30" y1="552.80" x2="426.30" y2="439.70" stroke="#3c3c3c" stroke-width="1.2"/>
<line x1="422.50" y1="552.80" x2="426.30" y2="552.80" stroke="#3c3c3c" stroke-width="1.0"/>
<text x="419.40" y="555.90" text-anchor="end" class="tk">0</text>
<line x1="424.50" y1="543.38" x2="426.30" y2="543.38" stroke="#3c3c3c" stroke-width="1.0"/>
<line x1="422.50" y1="533.95" x2="426.30" y2="533.95" stroke="#3c3c3c" stroke-width="1.0"/>
<text x="419.40" y="537.05" text-anchor="end" class="tk">2</text>
<line x1="424.50" y1="524.52" x2="426.30" y2="524.52" stroke="#3c3c3c" stroke-width="1.0"/>
<line x1="422.50" y1="515.10" x2="426.30" y2="515.10" stroke="#3c3c3c" stroke-width="1.0"/>
<text x="419.40" y="518.20" text-anchor="end" class="tk">4</text>
<line x1="424.50" y1="505.67" x2="426.30" y2="505.67" stroke="#3c3c3c" stroke-width="1.0"/>
<line x1="422.50" y1="496.25" x2="426.30" y2="496.25" stroke="#3c3c3c" stroke-width="1.0"/>
<text x="419.40" y="499.35" text-anchor="end" class="tk">6</text>
<line x1="424.50" y1="486.82" x2="426.30" y2="486.82" stroke="#3c3c3c" stroke-width="1.0"/>
<line x1="422.50" y1="477.40" x2="426.30" y2="477.40" stroke="#3c3c3c" stroke-width="1.0"/>
<text x="419.40" y="480.50" text-anchor="end" class="tk">8</text>
<line x1="424.50" y1="467.97" x2="426.30" y2="467.97" stroke="#3c3c3c" stroke-width="1.0"/>
<line x1="422.50" y1="458.55" x2="426.30" y2="458.55" stroke="#3c3c3c" stroke-width="1.0"/>
<text x="419.40" y="461.65" text-anchor="end" class="tk">10</text>
<line x1="424.50" y1="449.12" x2="426.30" y2="449.12" stroke="#3c3c3c" stroke-width="1.0"/>
<line x1="422.50" y1="439.70" x2="426.30" y2="439.70" stroke="#3c3c3c" stroke-width="1.0"/>
<text x="419.40" y="442.80" text-anchor="end" class="tk">12</text>
<line x1="426.30" y1="552.80" x2="652.76" y2="552.80" stroke="#3c3c3c" stroke-width="1.2"/>
<line x1="426.30" y1="552.80" x2="426.30" y2="556.80" stroke="#3c3c3c" stroke-width="1.0"/>
<text x="426.30" y="568.30" text-anchor="middle" class="tk">0</text>
<line x1="448.45" y1="552.80" x2="448.45" y2="554.80" stroke="#3c3c3c" stroke-width="1.0"/>
<line x1="470.60" y1="552.80" x2="470.60" y2="556.80" stroke="#3c3c3c" stroke-width="1.0"/>
<text x="470.60" y="568.30" text-anchor="middle" class="tk">500</text>
<line x1="492.75" y1="552.80" x2="492.75" y2="554.80" stroke="#3c3c3c" stroke-width="1.0"/>
<line x1="514.90" y1="552.80" x2="514.90" y2="556.80" stroke="#3c3c3c" stroke-width="1.0"/>
<text x="514.90" y="568.30" text-anchor="middle" class="tk">1000</text>
<line x1="537.05" y1="552.80" x2="537.05" y2="554.80" stroke="#3c3c3c" stroke-width="1.0"/>
<line x1="559.20" y1="552.80" x2="559.20" y2="556.80" stroke="#3c3c3c" stroke-width="1.0"/>
<text x="559.20" y="568.30" text-anchor="middle" class="tk">1500</text>
<line x1="581.35" y1="552.80" x2="581.35" y2="554.80" stroke="#3c3c3c" stroke-width="1.0"/>
<line x1="603.50" y1="552.80" x2="603.50" y2="556.80" stroke="#3c3c3c" stroke-width="1.0"/>
<text x="603.50" y="568.30" text-anchor="middle" class="tk">2000</text>
<line x1="625.65" y1="552.80" x2="625.65" y2="554.80" stroke="#3c3c3c" stroke-width="1.0"/>
<line x1="647.80" y1="552.80" x2="647.80" y2="556.80" stroke="#3c3c3c" stroke-width="1.0"/>
<text x="647.80" y="568.30" text-anchor="middle" class="tk">2500</text>
<line x1="652.76" y1="552.80" x2="722.63" y2="390.08" stroke="#111" stroke-width="1.1"/>
<line x1="652.76" y1="552.80" x2="654.76" y2="552.80" stroke="#111" stroke-width="1.0"/>
<line x1="675.54" y1="499.74" x2="677.34" y2="499.74" stroke="#111" stroke-width="1.0"/>
<line x1="694.13" y1="456.46" x2="695.76" y2="456.46" stroke="#111" stroke-width="1.0"/>
<line x1="709.58" y1="420.47" x2="711.07" y2="420.47" stroke="#111" stroke-width="1.0"/>
<line x1="722.63" y1="390.08" x2="724.00" y2="390.08" stroke="#111" stroke-width="1.0"/>
<line x1="663.96" y1="524.86" x2="668.55" y2="524.86" stroke="#111" stroke-width="1.0"/>
<text x="671.39" y="527.99" style="font-size:8.71px" class="pl">P6</text>
<line x1="684.48" y1="477.06" x2="688.70" y2="477.06" stroke="#111" stroke-width="1.0"/>
<text x="691.27" y="479.89" style="font-size:7.87px" class="pl">P7</text>
<line x1="701.39" y1="437.67" x2="705.31" y2="437.67" stroke="#111" stroke-width="1.0"/>
<text x="707.65" y="440.26" style="font-size:7.18px" class="pl">P8</text>
<line x1="715.57" y1="404.66" x2="719.23" y2="404.66" stroke="#111" stroke-width="1.0"/>
<text x="721.38" y="407.03" style="font-size:6.60px" class="pl">P9</text>
<text transform="translate(405.30,496.80) rotate(-90)" text-anchor="middle" class="ti">Normalized magnitude</text>
<text x="539.40" y="591.40" text-anchor="middle" class="ti">Frequency [Hz]</text>
<text x="546.50" y="609.25" text-anchor="middle" class="pn">(d)</text>
<text x="451.60" y="455.30" class="an">0.75 <tspan class="fi" dx="0.4">f</tspan><tspan class="sb" dx="0.6" dy="2.8">n</tspan></text>
<text x="488.50" y="399.20" class="an">0.5 <tspan class="fi" dx="0.4">f</tspan><tspan class="sb" dx="0.6" dy="2.8">n</tspan></text>
<text x="517.10" y="367.70" class="an">0.5 <tspan class="fi" dx="0.4">f</tspan><tspan class="sb" dx="0.6" dy="2.8">n</tspan></text>
<text x="555.00" y="352.00" class="an">0.5 <tspan class="fi" dx="0.4">f</tspan><tspan class="sb" dx="0.6" dy="2.8">n</tspan></text></g>
<g id="pe"><polygon points="41.05,881.50 267.51,881.50 337.38,718.78 181.35,718.78" fill="#f0f0f0"/>
<polygon points="41.05,881.50 41.05,768.40 181.35,640.85 181.35,718.78" fill="#e5f7f6"/>
<polygon points="181.35,718.78 181.35,640.85 337.38,640.85 337.38,718.78" fill="#ffffda"/>
<line x1="211.87" y1="718.78" x2="211.87" y2="640.85" stroke="#c5c3ae" stroke-width="1.1"/>
<line x1="242.39" y1="718.78" x2="242.39" y2="640.85" stroke="#c5c3ae" stroke-width="1.1"/>
<line x1="272.91" y1="718.78" x2="272.91" y2="640.85" stroke="#c5c3ae" stroke-width="1.1"/>
<line x1="303.44" y1="718.78" x2="303.44" y2="640.85" stroke="#c5c3ae" stroke-width="1.1"/>
<line x1="333.96" y1="718.78" x2="333.96" y2="640.85" stroke="#c5c3ae" stroke-width="1.1"/>
<line x1="181.35" y1="705.79" x2="337.38" y2="705.79" stroke="#c5c3ae" stroke-width="1.1"/>
<line x1="181.35" y1="692.80" x2="337.38" y2="692.80" stroke="#c5c3ae" stroke-width="1.1"/>
<line x1="181.35" y1="679.82" x2="337.38" y2="679.82" stroke="#c5c3ae" stroke-width="1.1"/>
<line x1="181.35" y1="666.83" x2="337.38" y2="666.83" stroke="#c5c3ae" stroke-width="1.1"/>
<line x1="181.35" y1="653.84" x2="337.38" y2="653.84" stroke="#c5c3ae" stroke-width="1.1"/>
<line x1="181.35" y1="640.85" x2="337.38" y2="640.85" stroke="#b5b19c" stroke-width="1.2"/>
<line x1="337.38" y1="718.78" x2="337.38" y2="640.85" stroke="#b5b19c" stroke-width="1.0"/>
<line x1="181.35" y1="718.78" x2="337.38" y2="718.78" stroke="#a8a8a0" stroke-width="1.0"/>
<line x1="65.14" y1="853.56" x2="65.14" y2="746.50" stroke="#c9dcdc" stroke-width="1.0"/>
<line x1="106.36" y1="805.76" x2="106.36" y2="709.03" stroke="#c9dcdc" stroke-width="1.0"/>
<line x1="140.31" y1="766.37" x2="140.31" y2="678.16" stroke="#c9dcdc" stroke-width="1.0"/>
<line x1="168.78" y1="733.36" x2="168.78" y2="652.28" stroke="#c9dcdc" stroke-width="1.0"/>
<line x1="41.05" y1="862.65" x2="181.35" y2="705.79" stroke="#8a9999" stroke-width="0.7"/>
<line x1="41.05" y1="843.80" x2="181.35" y2="692.80" stroke="#8a9999" stroke-width="0.7"/>
<line x1="41.05" y1="824.95" x2="181.35" y2="679.82" stroke="#8a9999" stroke-width="0.7"/>
<line x1="41.05" y1="806.10" x2="181.35" y2="666.83" stroke="#8a9999" stroke-width="0.7"/>
<line x1="41.05" y1="787.25" x2="181.35" y2="653.84" stroke="#8a9999" stroke-width="0.7"/>
<line x1="85.35" y1="881.50" x2="211.87" y2="718.78" stroke="#909090" stroke-width="0.7"/>
<line x1="129.65" y1="881.50" x2="242.39" y2="718.78" stroke="#909090" stroke-width="0.7"/>
<line x1="173.95" y1="881.50" x2="272.91" y2="718.78" stroke="#909090" stroke-width="0.7"/>
<line x1="218.25" y1="881.50" x2="303.44" y2="718.78" stroke="#909090" stroke-width="0.7"/>
<line x1="262.55" y1="881.50" x2="333.96" y2="718.78" stroke="#909090" stroke-width="0.7"/>
<line x1="41.05" y1="768.40" x2="181.35" y2="640.85" stroke="#555" stroke-width="1.0"/>
<line x1="181.35" y1="718.78" x2="181.35" y2="640.85" stroke="#555" stroke-width="1.0"/>
<line x1="41.05" y1="881.50" x2="181.35" y2="718.78" stroke="#444" stroke-width="1.0"/>
<polygon points="169.30,733.36 169.30,732.90 169.60,723.70 170.40,712.80 170.90,704.00 171.50,701.80 172.60,708.40 173.60,716.00 174.70,714.90 175.80,711.10 177.20,710.00 178.60,711.70 180.70,714.90 182.90,718.20 185.10,723.70 188.40,728.00 192.80,729.70 197.10,730.40 205.90,730.80 225.50,731.30 240.00,731.90 300.00,732.60 331.12,732.60 331.12,733.36" fill="#fff" stroke="none"/>
<polyline points="169.30,733.36 169.30,732.90 169.60,723.70 170.40,712.80 170.90,704.00 171.50,701.80 172.60,708.40 173.60,716.00 174.70,714.90 175.80,711.10 177.20,710.00 178.60,711.70 180.70,714.90 182.90,718.20 185.10,723.70 188.40,728.00 192.80,729.70 197.10,730.40 205.90,730.80 225.50,731.30 240.00,731.90 300.00,732.60 331.12,732.60" fill="none" stroke="#5e5e5e" stroke-width="1" stroke-linejoin="round"/>
<polygon points="140.80,766.37 140.80,765.80 141.20,737.20 142.20,708.60 142.90,694.30 143.60,691.40 145.10,701.50 146.50,715.80 148.70,734.40 150.80,741.50 153.70,748.70 157.20,757.30 160.80,763.00 163.70,765.50 166.50,764.70 170.10,765.50 190.00,765.70 280.00,765.80 316.94,765.80 316.94,766.37" fill="#fff" stroke="none"/>
<polyline points="140.80,766.37 140.80,765.80 141.20,737.20 142.20,708.60 142.90,694.30 143.60,691.40 145.10,701.50 146.50,715.80 148.70,734.40 150.80,741.50 153.70,748.70 157.20,757.30 160.80,763.00 163.70,765.50 166.50,764.70 170.10,765.50 190.00,765.70 280.00,765.80 316.94,765.80" fill="none" stroke="#5e5e5e" stroke-width="1" stroke-linejoin="round"/>
<polygon points="106.20,805.76 106.20,805.20 106.90,780.10 107.90,751.50 108.90,728.60 109.30,724.30 110.30,737.20 111.50,758.70 112.90,775.90 115.00,777.30 117.20,774.40 119.30,770.80 120.30,780.10 121.50,791.60 123.20,798.70 127.20,800.90 132.90,802.30 137.20,801.60 141.50,803.00 154.40,803.70 190.00,804.20 260.00,804.90 300.03,804.90 300.03,805.76" fill="#fff" stroke="none"/>
<polyline points="106.20,805.76 106.20,805.20 106.90,780.10 107.90,751.50 108.90,728.60 109.30,724.30 110.30,737.20 111.50,758.70 112.90,775.90 115.00,777.30 117.20,774.40 119.30,770.80 120.30,780.10 121.50,791.60 123.20,798.70 127.20,800.90 132.90,802.30 137.20,801.60 141.50,803.00 154.40,803.70 190.00,804.20 260.00,804.90 300.03,804.90" fill="none" stroke="#5e5e5e" stroke-width="1" stroke-linejoin="round"/>
<polygon points="65.60,853.56 65.60,853.20 65.80,838.10 66.30,815.50 66.70,802.00 67.60,791.20 68.50,784.00 69.40,791.20 71.20,802.00 73.00,812.80 74.80,825.50 75.90,833.10 77.50,827.30 79.10,821.80 80.20,825.50 81.10,833.60 82.00,839.90 82.90,844.40 85.60,844.80 88.80,844.20 91.00,845.30 93.70,848.00 97.30,850.70 101.80,851.60 105.00,851.60 123.20,852.10 155.00,852.50 250.00,852.90 279.51,852.90 279.51,853.56" fill="#fff" stroke="none"/>
<polyline points="65.60,853.56 65.60,853.20 65.80,838.10 66.30,815.50 66.70,802.00 67.60,791.20 68.50,784.00 69.40,791.20 71.20,802.00 73.00,812.80 74.80,825.50 75.90,833.10 77.50,827.30 79.10,821.80 80.20,825.50 81.10,833.60 82.00,839.90 82.90,844.40 85.60,844.80 88.80,844.20 91.00,845.30 93.70,848.00 97.30,850.70 101.80,851.60 105.00,851.60 123.20,852.10 155.00,852.50 250.00,852.90 279.51,852.90" fill="none" stroke="#5e5e5e" stroke-width="1" stroke-linejoin="round"/>
<line x1="41.05" y1="881.50" x2="41.05" y2="768.40" stroke="#3c3c3c" stroke-width="1.2"/>
<line x1="37.25" y1="881.50" x2="41.05" y2="881.50" stroke="#3c3c3c" stroke-width="1.0"/>
<text x="34.15" y="884.60" text-anchor="end" class="tk">0</text>
<line x1="39.25" y1="872.08" x2="41.05" y2="872.08" stroke="#3c3c3c" stroke-width="1.0"/>
<line x1="37.25" y1="862.65" x2="41.05" y2="862.65" stroke="#3c3c3c" stroke-width="1.0"/>
<text x="34.15" y="865.75" text-anchor="end" class="tk">2</text>
<line x1="39.25" y1="853.23" x2="41.05" y2="853.23" stroke="#3c3c3c" stroke-width="1.0"/>
<line x1="37.25" y1="843.80" x2="41.05" y2="843.80" stroke="#3c3c3c" stroke-width="1.0"/>
<text x="34.15" y="846.90" text-anchor="end" class="tk">4</text>
<line x1="39.25" y1="834.38" x2="41.05" y2="834.38" stroke="#3c3c3c" stroke-width="1.0"/>
<line x1="37.25" y1="824.95" x2="41.05" y2="824.95" stroke="#3c3c3c" stroke-width="1.0"/>
<text x="34.15" y="828.05" text-anchor="end" class="tk">6</text>
<line x1="39.25" y1="815.52" x2="41.05" y2="815.52" stroke="#3c3c3c" stroke-width="1.0"/>
<line x1="37.25" y1="806.10" x2="41.05" y2="806.10" stroke="#3c3c3c" stroke-width="1.0"/>
<text x="34.15" y="809.20" text-anchor="end" class="tk">8</text>
<line x1="39.25" y1="796.67" x2="41.05" y2="796.67" stroke="#3c3c3c" stroke-width="1.0"/>
<line x1="37.25" y1="787.25" x2="41.05" y2="787.25" stroke="#3c3c3c" stroke-width="1.0"/>
<text x="34.15" y="790.35" text-anchor="end" class="tk">10</text>
<line x1="39.25" y1="777.83" x2="41.05" y2="777.83" stroke="#3c3c3c" stroke-width="1.0"/>
<line x1="37.25" y1="768.40" x2="41.05" y2="768.40" stroke="#3c3c3c" stroke-width="1.0"/>
<text x="34.15" y="771.50" text-anchor="end" class="tk">12</text>
<line x1="41.05" y1="881.50" x2="267.51" y2="881.50" stroke="#3c3c3c" stroke-width="1.2"/>
<line x1="41.05" y1="881.50" x2="41.05" y2="885.50" stroke="#3c3c3c" stroke-width="1.0"/>
<text x="41.05" y="897.00" text-anchor="middle" class="tk">0</text>
<line x1="63.20" y1="881.50" x2="63.20" y2="883.50" stroke="#3c3c3c" stroke-width="1.0"/>
<line x1="85.35" y1="881.50" x2="85.35" y2="885.50" stroke="#3c3c3c" stroke-width="1.0"/>
<text x="85.35" y="897.00" text-anchor="middle" class="tk">500</text>
<line x1="107.50" y1="881.50" x2="107.50" y2="883.50" stroke="#3c3c3c" stroke-width="1.0"/>
<line x1="129.65" y1="881.50" x2="129.65" y2="885.50" stroke="#3c3c3c" stroke-width="1.0"/>
<text x="129.65" y="897.00" text-anchor="middle" class="tk">1000</text>
<line x1="151.80" y1="881.50" x2="151.80" y2="883.50" stroke="#3c3c3c" stroke-width="1.0"/>
<line x1="173.95" y1="881.50" x2="173.95" y2="885.50" stroke="#3c3c3c" stroke-width="1.0"/>
<text x="173.95" y="897.00" text-anchor="middle" class="tk">1500</text>
<line x1="196.10" y1="881.50" x2="196.10" y2="883.50" stroke="#3c3c3c" stroke-width="1.0"/>
<line x1="218.25" y1="881.50" x2="218.25" y2="885.50" stroke="#3c3c3c" stroke-width="1.0"/>
<text x="218.25" y="897.00" text-anchor="middle" class="tk">2000</text>
<line x1="240.40" y1="881.50" x2="240.40" y2="883.50" stroke="#3c3c3c" stroke-width="1.0"/>
<line x1="262.55" y1="881.50" x2="262.55" y2="885.50" stroke="#3c3c3c" stroke-width="1.0"/>
<text x="262.55" y="897.00" text-anchor="middle" class="tk">2500</text>
<line x1="267.51" y1="881.50" x2="337.38" y2="718.78" stroke="#111" stroke-width="1.1"/>
<line x1="267.51" y1="881.50" x2="269.51" y2="881.50" stroke="#111" stroke-width="1.0"/>
<line x1="290.29" y1="828.44" x2="292.09" y2="828.44" stroke="#111" stroke-width="1.0"/>
<line x1="308.88" y1="785.16" x2="310.51" y2="785.16" stroke="#111" stroke-width="1.0"/>
<line x1="324.33" y1="749.17" x2="325.82" y2="749.17" stroke="#111" stroke-width="1.0"/>
<line x1="337.38" y1="718.78" x2="338.75" y2="718.78" stroke="#111" stroke-width="1.0"/>
<line x1="278.71" y1="853.56" x2="283.30" y2="853.56" stroke="#111" stroke-width="1.0"/>
<text x="286.14" y="856.69" style="font-size:8.71px" class="pl">P6</text>
<line x1="299.23" y1="805.76" x2="303.45" y2="805.76" stroke="#111" stroke-width="1.0"/>
<text x="306.02" y="808.59" style="font-size:7.87px" class="pl">P7</text>
<line x1="316.14" y1="766.37" x2="320.06" y2="766.37" stroke="#111" stroke-width="1.0"/>
<text x="322.40" y="768.96" style="font-size:7.18px" class="pl">P8</text>
<line x1="330.32" y1="733.36" x2="333.98" y2="733.36" stroke="#111" stroke-width="1.0"/>
<text x="336.13" y="735.73" style="font-size:6.60px" class="pl">P9</text>
<text transform="translate(20.05,825.50) rotate(-90)" text-anchor="middle" class="ti">Normalized magnitude</text>
<text x="154.30" y="920.40" text-anchor="middle" class="ti">Frequency [Hz]</text>
<text x="153.15" y="939.25" text-anchor="middle" class="pn">(e)</text>
<text x="60.50" y="780.40" class="an">0.25 <tspan class="fi" dx="0.4">f</tspan><tspan class="sb" dx="0.6" dy="2.8">n</tspan></text>
<text x="100.70" y="727.50" class="an">0.25 <tspan class="fi" dx="0.4">f</tspan><tspan class="sb" dx="0.6" dy="2.8">n</tspan></text>
<text x="123.20" y="698.90" class="an">0.25 <tspan class="fi" dx="0.4">f</tspan><tspan class="sb" dx="0.6" dy="2.8">n</tspan></text>
<text x="177.50" y="704.10" class="an">0.25 <tspan class="fi" dx="0.4">f</tspan><tspan class="sb" dx="0.6" dy="2.8">n</tspan></text></g>
<g id="pf"><polygon points="421.70,879.30 648.16,879.30 718.03,716.58 562.00,716.58" fill="#f0f0f0"/>
<polygon points="421.70,879.30 421.70,766.20 562.00,638.65 562.00,716.58" fill="#e5f7f6"/>
<polygon points="562.00,716.58 562.00,638.65 718.03,638.65 718.03,716.58" fill="#ffffda"/>
<line x1="592.52" y1="716.58" x2="592.52" y2="638.65" stroke="#c5c3ae" stroke-width="1.1"/>
<line x1="623.04" y1="716.58" x2="623.04" y2="638.65" stroke="#c5c3ae" stroke-width="1.1"/>
<line x1="653.56" y1="716.58" x2="653.56" y2="638.65" stroke="#c5c3ae" stroke-width="1.1"/>
<line x1="684.09" y1="716.58" x2="684.09" y2="638.65" stroke="#c5c3ae" stroke-width="1.1"/>
<line x1="714.61" y1="716.58" x2="714.61" y2="638.65" stroke="#c5c3ae" stroke-width="1.1"/>
<line x1="562.00" y1="703.59" x2="718.03" y2="703.59" stroke="#c5c3ae" stroke-width="1.1"/>
<line x1="562.00" y1="690.60" x2="718.03" y2="690.60" stroke="#c5c3ae" stroke-width="1.1"/>
<line x1="562.00" y1="677.62" x2="718.03" y2="677.62" stroke="#c5c3ae" stroke-width="1.1"/>
<line x1="562.00" y1="664.63" x2="718.03" y2="664.63" stroke="#c5c3ae" stroke-width="1.1"/>
<line x1="562.00" y1="651.64" x2="718.03" y2="651.64" stroke="#c5c3ae" stroke-width="1.1"/>
<line x1="562.00" y1="638.65" x2="718.03" y2="638.65" stroke="#b5b19c" stroke-width="1.2"/>
<line x1="718.03" y1="716.58" x2="718.03" y2="638.65" stroke="#b5b19c" stroke-width="1.0"/>
<line x1="562.00" y1="716.58" x2="718.03" y2="716.58" stroke="#a8a8a0" stroke-width="1.0"/>
<line x1="445.79" y1="851.36" x2="445.79" y2="744.30" stroke="#c9dcdc" stroke-width="1.0"/>
<line x1="487.01" y1="803.56" x2="487.01" y2="706.83" stroke="#c9dcdc" stroke-width="1.0"/>
<line x1="520.96" y1="764.17" x2="520.96" y2="675.96" stroke="#c9dcdc" stroke-width="1.0"/>
<line x1="549.43" y1="731.16" x2="549.43" y2="650.08" stroke="#c9dcdc" stroke-width="1.0"/>
<line x1="421.70" y1="860.45" x2="562.00" y2="703.59" stroke="#8a9999" stroke-width="0.7"/>
<line x1="421.70" y1="841.60" x2="562.00" y2="690.60" stroke="#8a9999" stroke-width="0.7"/>
<line x1="421.70" y1="822.75" x2="562.00" y2="677.62" stroke="#8a9999" stroke-width="0.7"/>
<line x1="421.70" y1="803.90" x2="562.00" y2="664.63" stroke="#8a9999" stroke-width="0.7"/>
<line x1="421.70" y1="785.05" x2="562.00" y2="651.64" stroke="#8a9999" stroke-width="0.7"/>
<line x1="466.00" y1="879.30" x2="592.52" y2="716.58" stroke="#909090" stroke-width="0.7"/>
<line x1="510.30" y1="879.30" x2="623.04" y2="716.58" stroke="#909090" stroke-width="0.7"/>
<line x1="554.60" y1="879.30" x2="653.56" y2="716.58" stroke="#909090" stroke-width="0.7"/>
<line x1="598.90" y1="879.30" x2="684.09" y2="716.58" stroke="#909090" stroke-width="0.7"/>
<line x1="643.20" y1="879.30" x2="714.61" y2="716.58" stroke="#909090" stroke-width="0.7"/>
<line x1="421.70" y1="766.20" x2="562.00" y2="638.65" stroke="#555" stroke-width="1.0"/>
<line x1="562.00" y1="716.58" x2="562.00" y2="638.65" stroke="#555" stroke-width="1.0"/>
<line x1="421.70" y1="879.30" x2="562.00" y2="716.58" stroke="#444" stroke-width="1.0"/>
<polygon points="549.50,731.16 549.50,731.00 549.90,718.80 551.10,708.90 552.40,699.10 553.60,690.50 554.50,681.90 554.90,678.20 555.70,686.80 556.70,696.70 557.60,701.60 558.90,690.50 560.30,682.50 561.60,690.50 562.80,702.80 564.60,706.50 566.50,710.20 567.70,716.30 568.70,723.10 570.80,718.80 573.20,714.50 575.10,718.80 577.50,722.40 580.00,724.30 583.70,724.30 589.80,725.50 600.00,727.40 640.00,729.50 711.77,729.50 711.77,731.16" fill="#fff" stroke="none"/>
<polyline points="549.50,731.16 549.50,731.00 549.90,718.80 551.10,708.90 552.40,699.10 553.60,690.50 554.50,681.90 554.90,678.20 555.70,686.80 556.70,696.70 557.60,701.60 558.90,690.50 560.30,682.50 561.60,690.50 562.80,702.80 564.60,706.50 566.50,710.20 567.70,716.30 568.70,723.10 570.80,718.80 573.20,714.50 575.10,718.80 577.50,722.40 580.00,724.30 583.70,724.30 589.80,725.50 600.00,727.40 640.00,729.50 711.77,729.50" fill="none" stroke="#5e5e5e" stroke-width="1" stroke-linejoin="round"/>
<polygon points="521.50,764.17 521.50,764.20 521.90,751.90 522.60,744.50 525.00,738.00 528.50,729.70 530.40,718.50 531.90,708.20 533.00,713.40 534.10,720.80 535.20,731.20 536.30,739.30 537.60,744.50 539.30,748.20 541.20,751.90 544.10,753.40 546.40,751.20 547.80,751.90 550.10,757.10 552.30,759.30 556.00,760.10 560.00,761.90 600.00,763.20 697.59,763.20 697.59,764.17" fill="#fff" stroke="none"/>
<polyline points="521.50,764.17 521.50,764.20 521.90,751.90 522.60,744.50 525.00,738.00 528.50,729.70 530.40,718.50 531.90,708.20 533.00,713.40 534.10,720.80 535.20,731.20 536.30,739.30 537.60,744.50 539.30,748.20 541.20,751.90 544.10,753.40 546.40,751.20 547.80,751.90 550.10,757.10 552.30,759.30 556.00,760.10 560.00,761.90 600.00,763.20 697.59,763.20" fill="none" stroke="#5e5e5e" stroke-width="1" stroke-linejoin="round"/>
<polygon points="487.20,803.56 487.20,803.50 487.80,793.70 488.70,785.10 489.60,775.90 491.50,777.10 493.30,777.70 495.20,780.80 496.80,783.90 498.50,775.30 500.10,766.70 501.70,754.40 502.90,744.60 503.90,753.20 504.70,766.70 505.60,777.70 506.60,786.90 508.10,784.50 509.50,786.30 511.70,791.20 514.20,795.50 517.30,798.60 520.30,799.60 524.00,799.60 527.70,799.60 530.20,800.40 532.60,802.00 536.30,801.70 541.20,801.00 546.10,801.70 553.50,802.00 560.00,801.70 620.00,802.80 680.68,802.80 680.68,803.56" fill="#fff" stroke="none"/>
<polyline points="487.20,803.56 487.20,803.50 487.80,793.70 488.70,785.10 489.60,775.90 491.50,777.10 493.30,777.70 495.20,780.80 496.80,783.90 498.50,775.30 500.10,766.70 501.70,754.40 502.90,744.60 503.90,753.20 504.70,766.70 505.60,777.70 506.60,786.90 508.10,784.50 509.50,786.30 511.70,791.20 514.20,795.50 517.30,798.60 520.30,799.60 524.00,799.60 527.70,799.60 530.20,800.40 532.60,802.00 536.30,801.70 541.20,801.00 546.10,801.70 553.50,802.00 560.00,801.70 620.00,802.80 680.68,802.80" fill="none" stroke="#5e5e5e" stroke-width="1" stroke-linejoin="round"/>
<polygon points="446.70,851.36 446.70,851.10 447.30,846.00 448.50,833.70 449.70,818.90 451.00,803.00 452.20,790.70 453.40,782.10 454.60,776.00 456.10,771.70 457.70,773.50 458.90,782.10 460.20,795.60 462.00,799.30 463.90,801.70 465.10,815.30 466.30,831.20 467.50,844.70 469.40,838.60 470.90,833.40 472.50,838.60 474.30,844.10 476.10,841.70 478.00,841.00 481.00,842.30 484.10,844.70 488.40,848.20 491.50,846.00 493.90,847.80 498.90,849.00 506.20,849.40 513.60,850.30 525.00,849.60 600.00,850.60 660.16,850.60 660.16,851.36" fill="#fff" stroke="none"/>
<polyline points="446.70,851.36 446.70,851.10 447.30,846.00 448.50,833.70 449.70,818.90 451.00,803.00 452.20,790.70 453.40,782.10 454.60,776.00 456.10,771.70 457.70,773.50 458.90,782.10 460.20,795.60 462.00,799.30 463.90,801.70 465.10,815.30 466.30,831.20 467.50,844.70 469.40,838.60 470.90,833.40 472.50,838.60 474.30,844.10 476.10,841.70 478.00,841.00 481.00,842.30 484.10,844.70 488.40,848.20 491.50,846.00 493.90,847.80 498.90,849.00 506.20,849.40 513.60,850.30 525.00,849.60 600.00,850.60 660.16,850.60" fill="none" stroke="#5e5e5e" stroke-width="1" stroke-linejoin="round"/>
<line x1="421.70" y1="879.30" x2="421.70" y2="766.20" stroke="#3c3c3c" stroke-width="1.2"/>
<line x1="417.90" y1="879.30" x2="421.70" y2="879.30" stroke="#3c3c3c" stroke-width="1.0"/>
<text x="414.80" y="882.40" text-anchor="end" class="tk">0</text>
<line x1="419.90" y1="869.88" x2="421.70" y2="869.88" stroke="#3c3c3c" stroke-width="1.0"/>
<line x1="417.90" y1="860.45" x2="421.70" y2="860.45" stroke="#3c3c3c" stroke-width="1.0"/>
<text x="414.80" y="863.55" text-anchor="end" class="tk">2</text>
<line x1="419.90" y1="851.02" x2="421.70" y2="851.02" stroke="#3c3c3c" stroke-width="1.0"/>
<line x1="417.90" y1="841.60" x2="421.70" y2="841.60" stroke="#3c3c3c" stroke-width="1.0"/>
<text x="414.80" y="844.70" text-anchor="end" class="tk">4</text>
<line x1="419.90" y1="832.17" x2="421.70" y2="832.17" stroke="#3c3c3c" stroke-width="1.0"/>
<line x1="417.90" y1="822.75" x2="421.70" y2="822.75" stroke="#3c3c3c" stroke-width="1.0"/>
<text x="414.80" y="825.85" text-anchor="end" class="tk">6</text>
<line x1="419.90" y1="813.32" x2="421.70" y2="813.32" stroke="#3c3c3c" stroke-width="1.0"/>
<line x1="417.90" y1="803.90" x2="421.70" y2="803.90" stroke="#3c3c3c" stroke-width="1.0"/>
<text x="414.80" y="807.00" text-anchor="end" class="tk">8</text>
<line x1="419.90" y1="794.47" x2="421.70" y2="794.47" stroke="#3c3c3c" stroke-width="1.0"/>
<line x1="417.90" y1="785.05" x2="421.70" y2="785.05" stroke="#3c3c3c" stroke-width="1.0"/>
<text x="414.80" y="788.15" text-anchor="end" class="tk">10</text>
<line x1="419.90" y1="775.62" x2="421.70" y2="775.62" stroke="#3c3c3c" stroke-width="1.0"/>
<line x1="417.90" y1="766.20" x2="421.70" y2="766.20" stroke="#3c3c3c" stroke-width="1.0"/>
<text x="414.80" y="769.30" text-anchor="end" class="tk">12</text>
<line x1="421.70" y1="879.30" x2="648.16" y2="879.30" stroke="#3c3c3c" stroke-width="1.2"/>
<line x1="421.70" y1="879.30" x2="421.70" y2="883.30" stroke="#3c3c3c" stroke-width="1.0"/>
<text x="421.70" y="894.80" text-anchor="middle" class="tk">0</text>
<line x1="443.85" y1="879.30" x2="443.85" y2="881.30" stroke="#3c3c3c" stroke-width="1.0"/>
<line x1="466.00" y1="879.30" x2="466.00" y2="883.30" stroke="#3c3c3c" stroke-width="1.0"/>
<text x="466.00" y="894.80" text-anchor="middle" class="tk">500</text>
<line x1="488.15" y1="879.30" x2="488.15" y2="881.30" stroke="#3c3c3c" stroke-width="1.0"/>
<line x1="510.30" y1="879.30" x2="510.30" y2="883.30" stroke="#3c3c3c" stroke-width="1.0"/>
<text x="510.30" y="894.80" text-anchor="middle" class="tk">1000</text>
<line x1="532.45" y1="879.30" x2="532.45" y2="881.30" stroke="#3c3c3c" stroke-width="1.0"/>
<line x1="554.60" y1="879.30" x2="554.60" y2="883.30" stroke="#3c3c3c" stroke-width="1.0"/>
<text x="554.60" y="894.80" text-anchor="middle" class="tk">1500</text>
<line x1="576.75" y1="879.30" x2="576.75" y2="881.30" stroke="#3c3c3c" stroke-width="1.0"/>
<line x1="598.90" y1="879.30" x2="598.90" y2="883.30" stroke="#3c3c3c" stroke-width="1.0"/>
<text x="598.90" y="894.80" text-anchor="middle" class="tk">2000</text>
<line x1="621.05" y1="879.30" x2="621.05" y2="881.30" stroke="#3c3c3c" stroke-width="1.0"/>
<line x1="643.20" y1="879.30" x2="643.20" y2="883.30" stroke="#3c3c3c" stroke-width="1.0"/>
<text x="643.20" y="894.80" text-anchor="middle" class="tk">2500</text>
<line x1="648.16" y1="879.30" x2="718.03" y2="716.58" stroke="#111" stroke-width="1.1"/>
<line x1="648.16" y1="879.30" x2="650.16" y2="879.30" stroke="#111" stroke-width="1.0"/>
<line x1="670.94" y1="826.24" x2="672.74" y2="826.24" stroke="#111" stroke-width="1.0"/>
<line x1="689.53" y1="782.96" x2="691.16" y2="782.96" stroke="#111" stroke-width="1.0"/>
<line x1="704.98" y1="746.97" x2="706.47" y2="746.97" stroke="#111" stroke-width="1.0"/>
<line x1="718.03" y1="716.58" x2="719.40" y2="716.58" stroke="#111" stroke-width="1.0"/>
<line x1="659.36" y1="851.36" x2="663.95" y2="851.36" stroke="#111" stroke-width="1.0"/>
<text x="666.79" y="854.49" style="font-size:8.71px" class="pl">P6</text>
<line x1="679.88" y1="803.56" x2="684.10" y2="803.56" stroke="#111" stroke-width="1.0"/>
<text x="686.67" y="806.39" style="font-size:7.87px" class="pl">P7</text>
<line x1="696.79" y1="764.17" x2="700.71" y2="764.17" stroke="#111" stroke-width="1.0"/>
<text x="703.05" y="766.76" style="font-size:7.18px" class="pl">P8</text>
<line x1="710.97" y1="731.16" x2="714.63" y2="731.16" stroke="#111" stroke-width="1.0"/>
<text x="716.78" y="733.53" style="font-size:6.60px" class="pl">P9</text>
<text transform="translate(400.70,823.30) rotate(-90)" text-anchor="middle" class="ti">Normalized magnitude</text>
<text x="535.00" y="918.20" text-anchor="middle" class="ti">Frequency [Hz]</text>
<text x="537.40" y="939.15" text-anchor="middle" class="pn">(f)</text>
<text x="443.80" y="772.30" class="an">0.75 <tspan class="fi" dx="0.4">f</tspan><tspan class="sb" dx="0.6" dy="2.8">n</tspan></text>
<text x="489.60" y="743.30" class="an">1.25 <tspan class="fi" dx="0.4">f</tspan><tspan class="sb" dx="0.6" dy="2.8">n</tspan></text>
<text x="524.10" y="708.30" class="an">1.0 <tspan class="fi" dx="0.4">f</tspan><tspan class="sb" dx="0.6" dy="2.8">n</tspan></text>
<text x="546.20" y="677.00" class="an">0.5 <tspan class="fi" dx="0.4">f</tspan><tspan class="sb" dx="0.6" dy="2.8">n</tspan></text></g>
</svg>
</body></html>
